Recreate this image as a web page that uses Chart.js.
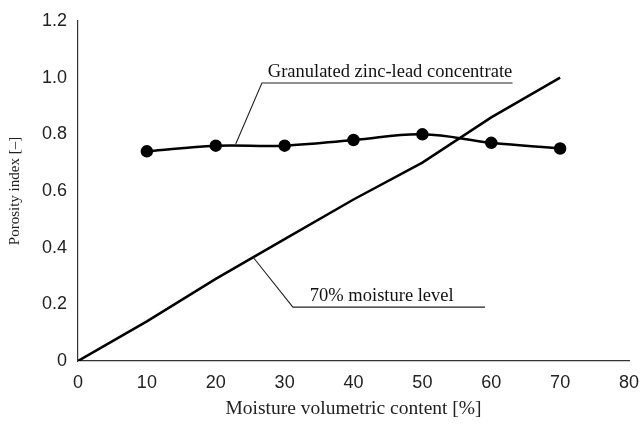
<!DOCTYPE html>
<html>
<head>
<meta charset="utf-8">
<script src="https://cdn.jsdelivr.net/npm/chart.js@4/dist/chart.umd.min.js"></script>
<style>
  html, body { margin: 0; padding: 0; background: #fff; }
  #wrap { width: 641px; height: 425px; }
</style>
</head>
<body>
<div id="wrap"><canvas id="porosityChart" width="641" height="425"></canvas></div>
<script>
// moisture content (%) at each measurement
const moisture = [10, 20, 30, 40, 50, 60, 70];
const porosity = [0.74, 0.76, 0.76, 0.78, 0.80, 0.77, 0.75];

// 70% moisture level reference line
const levelX = [0, 10, 20, 30, 40, 50, 60, 70];
const levelY = [0, 0.14, 0.29, 0.43, 0.57, 0.70, 0.86, 1.0];

const yTickLabels = ['0', '0.2', '0.4', '0.6', '0.8', '1.0', '1.2'];

// callout labels: [text, leader tip x, leader tip y, underline y, underline x start, underline x end, text centre x]
const callouts = [
    ['Granulated zinc-lead concentrate', 22.9, 0.766, 0.981, 26.7, 63.1, 45.3],
    ['70% moisture level', 25.4, 0.367, 0.19, 31.2, 59.1, 44.1]
];

const calloutPlugin = {
    id: 'callouts',
    afterDatasetsDraw(chart) {
        const ctx = chart.ctx;
        const x = chart.scales.x, y = chart.scales.y;
        ctx.save();
        ctx.strokeStyle = '#222';
        ctx.lineWidth = 1.1;
        ctx.fillStyle = '#111';
        ctx.font = '18.5px "Liberation Serif", "Times New Roman", serif';
        ctx.textBaseline = 'alphabetic';
        ctx.textAlign = 'center';
        callouts.forEach(c => {
            const tipX = x.getPixelForValue(c[1]), tipY = y.getPixelForValue(c[2]);
            const ulY = y.getPixelForValue(c[3]);
            const x0 = x.getPixelForValue(c[4]), x1 = x.getPixelForValue(c[5]);
            ctx.beginPath();
            ctx.moveTo(tipX, tipY);
            ctx.lineTo(x0, ulY);
            ctx.lineTo(x1, ulY);
            ctx.stroke();
            ctx.fillText(c[0], x.getPixelForValue(c[6]), ulY - 6);
        });
        ctx.restore();
    }
};

const ctx = document.getElementById('porosityChart').getContext('2d');
new Chart(ctx, {
    type: 'scatter',
    data: {
        datasets: [{
            label: 'Granulated zinc-lead concentrate',
            data: moisture.map((m, i) => ({ x: m, y: porosity[i] })),
            showLine: true,
            borderColor: '#000',
            backgroundColor: '#000',
            borderWidth: 2.5,
            tension: 0.4,
            pointRadius: 5,
            pointHoverRadius: 5
        }, {
            label: '70% moisture level',
            data: levelX.map((m, i) => ({ x: m, y: levelY[i] })),
            showLine: true,
            borderColor: '#000',
            borderWidth: 2.5,
            tension: 0,
            pointRadius: 0
        }]
    },
    plugins: [calloutPlugin],
    options: {
        responsive: false,
        animation: false,
        layout: { padding: { top: 21, right: 12, left: 0, bottom: 0 } },
        plugins: { legend: { display: false }, tooltip: { enabled: false } },
        scales: {
            x: {
                min: 0, max: 80,
                afterFit: s => { s.height = 64; s.paddingRight = 0; },
                grid: { display: false, drawTicks: true, tickLength: 6, tickColor: '#333' },
                border: { color: '#333', width: 1.2 },
                ticks: {
                    stepSize: 10,
                    color: '#222',
                    padding: 5,
                    font: { family: '"Liberation Sans", Arial, sans-serif', size: 18 }
                },
                title: {
                    display: true,
                    text: 'Moisture volumetric content [%]',
                    color: '#222',
                    padding: { top: 8 },
                    font: { family: '"Liberation Serif", "Times New Roman", serif', size: 19.5 }
                }
            },
            y: {
                min: 0, max: 1.2,
                afterFit: s => { s.width = 78; },
                grid: { display: false, drawTicks: true, tickLength: 6, tickColor: '#333' },
                border: { color: '#333', width: 1.2 },
                ticks: {
                    stepSize: 0.2,
                    color: '#222',
                    padding: 5,
                    font: { family: '"Liberation Sans", Arial, sans-serif', size: 18 },
                    callback: (v, i) => yTickLabels[i]
                },
                title: {
                    display: true,
                    text: 'Porosity index [\u2013]',
                    color: '#222',
                    padding: { top: 6, bottom: 2 },
                    font: { family: '"Liberation Serif", "Times New Roman", serif', size: 15 }
                }
            }
        }
    }
});
</script>
</body>
</html>
